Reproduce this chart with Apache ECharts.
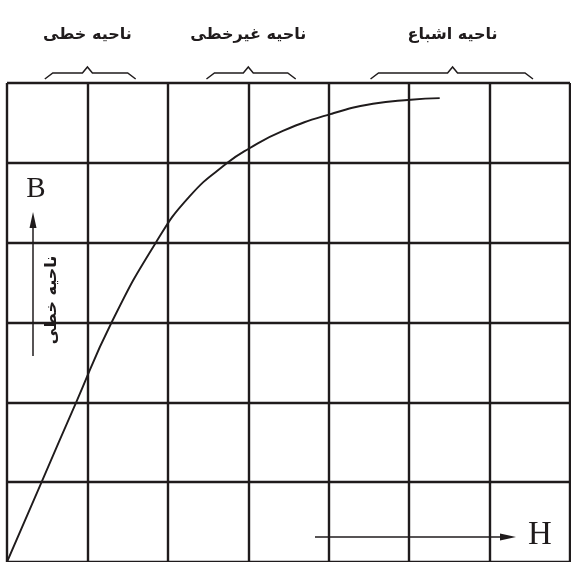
<!DOCTYPE html>
<html>
<head>
<meta charset="utf-8">
<script src="https://cdn.jsdelivr.net/npm/echarts@6/dist/echarts.min.js"></script>
<style>
  html, body { margin: 0; padding: 0; background: #fff; }
  #main { width: 571px; height: 562px; }
</style>
</head>
<body>
<div id="main"></div>
<script>
// B-H magnetisation curve (grid units)
var hValues = [0, 0.43, 0.86, 1.30, 1.85, 2.27, 2.74, 3.01, 3.43, 4.02, 4.55, 5.02, 5.38];
var bValues = [0, 1.0, 2.0, 3.0, 4.0, 4.58, 5.0, 5.18, 5.40, 5.61, 5.74, 5.79, 5.81];

// regions above the chart: [start, peak, end] on the H axis
var regionNames = ['ناحیه خطی', 'ناحیه غیرخطی', 'ناحیه اشباع'];
var regionSpans = [[0.47, 1.0, 1.6], [2.48, 3.0, 3.59], [4.52, 5.54, 6.54]];

var ink = '#1f1b1c';
var chart = echarts.init(document.getElementById('main'));

var option = {
    animation: false,
    grid: { left: 7, top: 83, width: 563, height: 484 },
    xAxis: {
        type: 'value', min: 0, max: 7, interval: 1,
        axisLine: { show: false }, axisTick: { show: false }, axisLabel: { show: false },
        splitLine: { show: true, lineStyle: { color: ink, width: 2.4 } }
    },
    yAxis: {
        type: 'value', min: 0, max: 6, interval: 1,
        axisLine: { show: false }, axisTick: { show: false }, axisLabel: { show: false },
        splitLine: { show: true, lineStyle: { color: ink, width: 2.4 } }
    },
    series: [{
        type: 'line',
        data: hValues.map(function (h, i) { return [h, bValues[i]]; }),
        smooth: 0.5,
        showSymbol: false,
        lineStyle: { color: ink, width: 1.9 }
    }]
};
chart.setOption(option);

var px = function (h) { return chart.convertToPixel({ gridIndex: 0 }, [h, 0])[0]; };
var graphics = [];
regionSpans.forEach(function (s, i) {
    var a = px(s[0]), m = px(s[1]), b = px(s[2]);
    graphics.push({
        type: 'polyline',
        shape: { points: [[a, 79], [a + 8, 73], [m - 5, 73], [m, 67], [m + 5, 73], [b - 8, 73], [b, 79]] },
        style: { stroke: ink, lineWidth: 1.5, fill: null }
    });
    graphics.push({
        type: 'text', x: m, y: 35,
        style: { text: regionNames[i], font: 'bold 16px "DejaVu Sans"', fill: ink, align: 'center', verticalAlign: 'middle' }
    });
});
// B arrow + label
graphics.push({ type: 'line', shape: { x1: 33, y1: 356, x2: 33, y2: 222 }, style: { stroke: ink, lineWidth: 1.5 } });
graphics.push({ type: 'polygon', shape: { points: [[33, 212], [29.5, 228], [36.5, 228]] }, style: { fill: ink } });
graphics.push({
    type: 'text', x: 36, y: 189,
    style: { text: 'B', font: '29px "Liberation Serif"', fill: ink, align: 'center', verticalAlign: 'middle' }
});
graphics.push({
    type: 'text', x: 52, y: 300, rotation: Math.PI / 2,
    style: { text: 'ناحیه خطی', font: 'bold 16px "DejaVu Sans"', fill: ink, align: 'center', verticalAlign: 'middle' }
});
// H arrow + label
graphics.push({ type: 'line', shape: { x1: 315, y1: 537, x2: 505, y2: 537 }, style: { stroke: ink, lineWidth: 1.5 } });
graphics.push({ type: 'polygon', shape: { points: [[516, 537], [500, 533.5], [500, 540.5]] }, style: { fill: ink } });
graphics.push({
    type: 'text', x: 540, y: 535,
    style: { text: 'H', font: '33px "Liberation Serif"', fill: ink, align: 'center', verticalAlign: 'middle' }
});
chart.setOption({ graphic: graphics });
window.addEventListener('resize', chart.resize);
</script>
</body>
</html>
